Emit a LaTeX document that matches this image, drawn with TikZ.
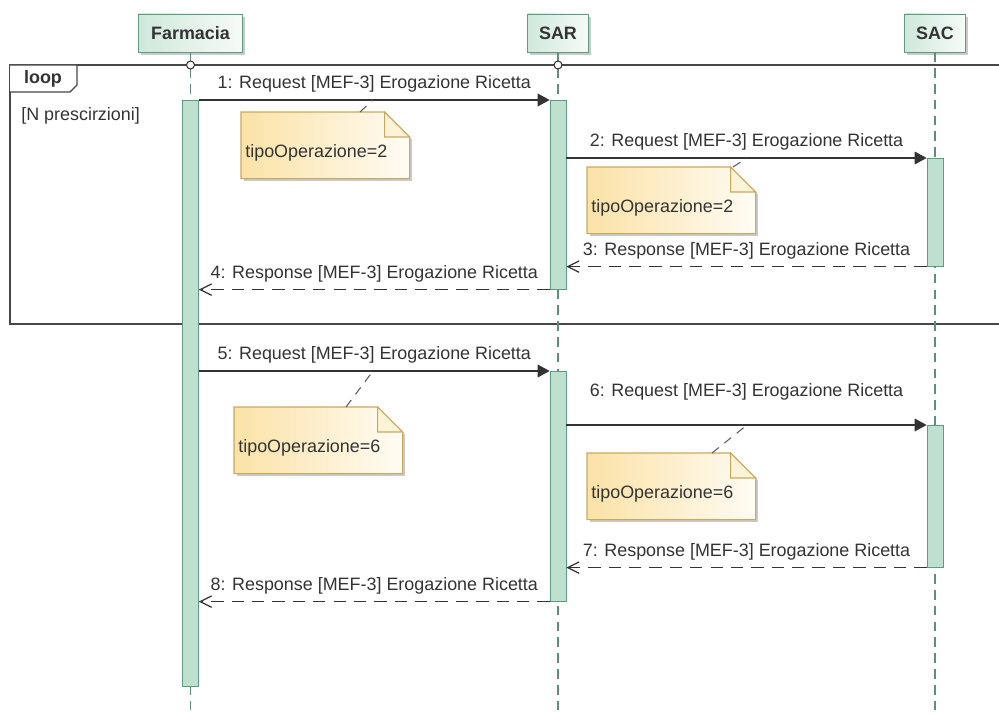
\documentclass[tikz,border=0pt]{standalone}
\usepackage{fontspec}
\setmainfont{Liberation Sans}
\usepackage{tikz}
\usetikzlibrary{positioning,arrows.meta,calc,shadows}

\definecolor{boxleft}{HTML}{CFE8DB}
\definecolor{boxright}{HTML}{F6FBF8}
\definecolor{boxline}{HTML}{5E9B7F}
\definecolor{barfill}{HTML}{BEE0CE}
\definecolor{lifegreen}{HTML}{5F8F7A}
\definecolor{noteleft}{HTML}{FBE2A6}
\definecolor{noteright}{HTML}{FFFCF4}
\definecolor{noteedge}{HTML}{C9A95E}
\definecolor{notefold}{HTML}{FDF3D6}
\definecolor{ink}{HTML}{333333}

\begin{document}
\begin{tikzpicture}[x=0.02cm, y=-0.02cm,
  every node/.style={font=\fontsize{10.2}{12}\selectfont, text=ink},
  lifebox/.style={rectangle, draw=boxline, left color=boxleft, right color=boxright,
    minimum height=0.76cm, inner sep=0pt, font=\fontsize{10.2}{12}\selectfont\bfseries,
    drop shadow={shadow xshift=1.6pt, shadow yshift=-1.6pt, opacity=0.35, fill=black!60}},
  actbar/.style={rectangle, draw=boxline, fill=barfill, minimum width=0.32cm, inner sep=0pt, anchor=north},
  lifeline/.style={draw=lifegreen, line width=0.6pt, dash pattern=on 5.5pt off 3.5pt},
  gate/.style={circle, draw=ink, fill=white, line width=0.6pt, minimum size=0.16cm, inner sep=0pt},
  frame/.style={draw=ink!90, line width=0.8pt},
  msg/.style={draw=ink, line width=0.7pt, -{Triangle[length=6.8pt,width=7.2pt]}},
  reply/.style={draw=ink, line width=0.7pt, dash pattern=on 7pt off 4.6pt,
    -{Straight Barb[length=6.5pt,width=6.5pt]}},
  mlabel/.style={above=3pt, inner sep=1pt},
  note/.style={rectangle, anchor=north west, left color=noteleft, right color=noteright,
    text width=3.2cm, align=left, inner xsep=0.08cm, inner ysep=0pt,
    text height=0.9cm, text depth=0.42cm,
    drop shadow={shadow xshift=1.6pt, shadow yshift=-1.6pt, opacity=0.35, fill=black!60}},
  noteborder/.style={draw=noteedge, line width=0.6pt},
  noteline/.style={draw=ink!80, line width=0.6pt, dash pattern=on 5pt off 4pt}
]
  \useasboundingbox (0,0) rectangle (999,715);

  % Loop fragment
  \draw[frame] (999,65) -- (10,65) -- (10,324) -- (999,324);
  \draw[frame, fill=white] (10,65) -| (77,85) -- (70,92) -- (10,92);
  \node[font=\fontsize{10.2}{12}\selectfont\bfseries] (looplbl) at (43,79) {loop};
  \node[anchor=west, inner sep=0pt] (guard) at (21,116) {[N prescirzioni]};

  % Lifelines
  \node[lifebox, minimum width=2.08cm] (farm) at (190.5,33) {Farmacia};
  \node[lifebox, minimum width=1.22cm] (sar) at (558,33) {SAR};
  \node[lifebox, minimum width=1.22cm] (sac) at (935,33) {SAC};
  \coordinate (farmEnd) at (190.5,715);
  \coordinate (sarEnd) at (558,715);
  \coordinate (sacEnd) at (935,715);
  \draw[lifeline] (farm) -- (farmEnd);
  \draw[lifeline] (sar) -- (sarEnd);
  \draw[lifeline] (sac) -- (sacEnd);
  \node[gate] (gfarm) at (190.5,65) {};
  \node[gate] (gsar) at (558,65) {};

  % Activation bars
  \node[actbar, minimum height=11.72cm] (fbar) at (190.5,100) {};
  \node[actbar, minimum height=3.78cm] (sbar1) at (558,100) {};
  \node[actbar, minimum height=2.16cm] (cbar1) at (935,158) {};
  \node[actbar, minimum height=4.6cm] (sbar2) at (558,371) {};
  \node[actbar, minimum height=2.84cm] (cbar2) at (935,425) {};

  % Messages inside the loop
  \draw[msg] (fbar.east |- sbar1.north) -- node[mlabel] (l1) {1: Request [MEF-3] Erogazione Ricetta} (sbar1.north west);
  \draw[msg] (sbar1.east |- cbar1.north) -- node[mlabel] (l2) {2: Request [MEF-3] Erogazione Ricetta} (cbar1.north west);
  \draw[reply] (cbar1.south west) -- node[mlabel] (l3) {3: Response [MEF-3] Erogazione Ricetta} (sbar1.east |- cbar1.south);
  \draw[reply] (sbar1.south west) -- node[mlabel] (l4) {4: Response [MEF-3] Erogazione Ricetta} (fbar.east |- sbar1.south);

  % Messages after the loop
  \draw[msg] (fbar.east |- sbar2.north) -- node[mlabel] (l5) {5: Request [MEF-3] Erogazione Ricetta} (sbar2.north west);
  \draw[msg] (sbar2.east |- cbar2.north) -- node[mlabel, above=13pt] (l6) {6: Request [MEF-3] Erogazione Ricetta} (cbar2.north west);
  \draw[reply] (cbar2.south west) -- node[mlabel] (l7) {7: Response [MEF-3] Erogazione Ricetta} (sbar2.east |- cbar2.south);
  \draw[reply] (sbar2.south west) -- node[mlabel] (l8) {8: Response [MEF-3] Erogazione Ricetta} (fbar.east |- sbar2.south);

  % Notes
  \node[note] (n1) at (241,112) {tipoOperazione=2};
  \node[note] (n2) at (587,167) {tipoOperazione=2};
  \node[note] (n3) at (234,407) {tipoOperazione=6};
  \node[note] (n4) at (587,453) {tipoOperazione=6};
  \foreach \n in {n1,n2,n3,n4} {
    \fill[white] ([xshift=-0.5cm-1pt, yshift=1pt]\n.north east) -- ([xshift=3pt, yshift=1pt]\n.north east)
      -- ([xshift=3pt, yshift=-0.5cm-3pt]\n.north east) -- cycle;
    \draw[noteborder] (\n.north west) -- ([xshift=-0.5cm]\n.north east) -- ([yshift=-0.5cm]\n.north east)
      -- (\n.south east) -- (\n.south west) -- cycle;
    \draw[noteborder, fill=notefold] ([xshift=-0.5cm]\n.north east) |- ([yshift=-0.5cm]\n.north east) -- cycle;
  }

  % Note anchors
  \coordinate (t1) at (373,100);
  \coordinate (t2) at (747,158);
  \coordinate (t3) at (373,371);
  \coordinate (t4) at (747,425);
  \draw[noteline] ([xshift=2.38cm]n1.north west) -- (t1);
  \draw[noteline] ([xshift=2.92cm]n2.north west) -- (t2);
  \draw[noteline] ([xshift=2.24cm]n3.north west) -- (t3);
  \draw[noteline] ([xshift=2.5cm]n4.north west) -- (t4);
\end{tikzpicture}
\end{document}
